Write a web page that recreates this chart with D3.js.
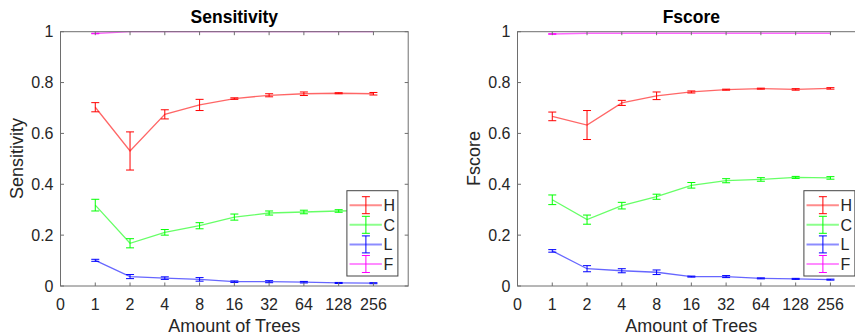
<!DOCTYPE html>
<html>
<head>
<meta charset="utf-8">
<script src="https://cdn.jsdelivr.net/npm/d3@7"></script>
<style>
  html, body { margin: 0; padding: 0; background: #fff; }
  svg { display: block; font-family: "Liberation Sans", Arial, Helvetica, sans-serif; }
</style>
</head>
<body>
<svg id="chart" width="855" height="336"></svg>
<script>
// ---------- data ----------
const xTickLabels = ["0", "1", "2", "4", "8", "16", "32", "64", "128", "256"];
const treeCounts = ["1", "2", "4", "8", "16", "32", "64", "128", "256"];
const seriesNames = ["H", "C", "L", "F"];
const seriesColors = ["#ff0000", "#00ff00", "#0000ff", "#ff00ff"];
const yTicks = [0, 0.2, 0.4, 0.6, 0.8, 1];

// Sensitivity panel
const sensH = [0.703, 0.531, 0.675, 0.712, 0.737, 0.750, 0.756, 0.758, 0.756];
const sensHErr = [0.018, 0.075, 0.018, 0.022, 0.003, 0.006, 0.007, 0.002, 0.005];
const sensC = [0.318, 0.168, 0.211, 0.237, 0.271, 0.287, 0.291, 0.295, 0.297];
const sensCErr = [0.023, 0.018, 0.011, 0.012, 0.012, 0.008, 0.007, 0.005, 0.005];
const sensL = [0.101, 0.037, 0.031, 0.026, 0.017, 0.017, 0.015, 0.012, 0.011];
const sensLErr = [0.004, 0.008, 0.005, 0.007, 0.003, 0.004, 0.003, 0.002, 0.002];
const sensF = [0.993, 1.0, 1.0, 1.0, 1.0, 1.0, 1.0, 1.0, 1.0];
const sensFErr = [0.001, 0, 0, 0, 0, 0, 0, 0, 0];

// Fscore panel
const fsH = [0.667, 0.633, 0.720, 0.748, 0.763, 0.772, 0.776, 0.773, 0.777];
const fsHErr = [0.017, 0.057, 0.010, 0.015, 0.004, 0.002, 0.002, 0.003, 0.003];
const fsC = [0.339, 0.261, 0.316, 0.351, 0.396, 0.414, 0.419, 0.427, 0.425];
const fsCErr = [0.019, 0.018, 0.013, 0.010, 0.011, 0.008, 0.007, 0.004, 0.005];
const fsL = [0.138, 0.068, 0.060, 0.054, 0.037, 0.037, 0.030, 0.028, 0.025];
const fsLErr = [0.005, 0.012, 0.008, 0.009, 0.002, 0.004, 0.002, 0.002, 0.002];
const fsF = [0.991, 0.994, 0.994, 0.994, 0.994, 0.994, 0.994, 0.994, 0.994];
const fsFErr = [0.001, 0, 0, 0, 0, 0, 0, 0, 0];

const panels = [
  { title: "Sensitivity", ylabel: "Sensitivity", left: 60.5, values: [sensH, sensC, sensL, sensF], errors: [sensHErr, sensCErr, sensLErr, sensFErr] },
  { title: "Fscore", ylabel: "Fscore", left: 517.5, values: [fsH, fsC, fsL, fsF], errors: [fsHErr, fsCErr, fsLErr, fsFErr] }
];

// ---------- drawing ----------
const svg = d3.select("#chart");
const plotW = 347.7, plotTop = 31.7, plotBottom = 286;
const axisColor = "#6e6e6e";
const textColor = "#262626";
const tickLen = 3.5;

panels.forEach(p => {
  const g = svg.append("g");
  const x = d3.scaleLinear().domain([0, xTickLabels.length]).range([p.left, p.left + plotW]);
  const y = d3.scaleLinear().domain([0, 1]).range([plotBottom, plotTop]);
  const xPos = i => x(i);

  p.values.forEach((vals, si) => {
    const col = seriesColors[si];
    const line = d3.line().x((d, i) => xPos(i + 1)).y(d => y(d));
    g.append("path").datum(vals)
      .attr("d", line).attr("fill", "none")
      .attr("stroke", col).attr("stroke-width", 1.3).attr("stroke-opacity", 0.6);
    const errs = p.errors[si];
    vals.forEach((v, i) => {
      const e = errs[i];
      if (e <= 0) return;
      const cx = xPos(i + 1);
      const y1 = y(v - e), y2 = y(v + e);
      g.append("line").attr("x1", cx).attr("x2", cx).attr("y1", y1).attr("y2", y2)
        .attr("stroke", col).attr("stroke-width", 1);
      [y1, y2].forEach(yy => {
        g.append("line").attr("x1", cx - 4).attr("x2", cx + 4).attr("y1", yy).attr("y2", yy)
          .attr("stroke", col).attr("stroke-width", 1);
      });
    });
  });

  const xr = x.range();
  g.append("rect").attr("x", xr[0]).attr("y", plotTop).attr("width", plotW).attr("height", plotBottom - plotTop)
    .attr("fill", "none").attr("stroke", axisColor).attr("stroke-width", 1);

  const xIdx = d3.range(xTickLabels.length);
  xIdx.forEach(i => {
    const px = xPos(i);
    g.append("line").attr("x1", px).attr("x2", px).attr("y1", plotBottom).attr("y2", plotBottom - tickLen).attr("stroke", axisColor);
    g.append("line").attr("x1", px).attr("x2", px).attr("y1", plotTop).attr("y2", plotTop + tickLen).attr("stroke", axisColor);
    g.append("text").attr("x", px).attr("y", 310).attr("text-anchor", "middle")
      .attr("font-size", 16).attr("fill", textColor).text(xTickLabels[i]);
  });
  yTicks.forEach(t => {
    const py = y(t);
    g.append("line").attr("x1", xr[0]).attr("x2", xr[0] + tickLen).attr("y1", py).attr("y2", py).attr("stroke", axisColor);
    g.append("line").attr("x1", xr[1]).attr("x2", xr[1] - tickLen).attr("y1", py).attr("y2", py).attr("stroke", axisColor);
    g.append("text").attr("x", xr[0] - 7).attr("y", py).attr("dy", "0.36em").attr("text-anchor", "end")
      .attr("font-size", 16).attr("fill", textColor).text(d3.format("")(t));
  });

  const cx = (xr[0] + xr[1]) / 2;
  g.append("text").attr("x", cx).attr("y", 23).attr("text-anchor", "middle")
    .attr("font-size", 17.5).attr("font-weight", "bold").attr("fill", "#000").text(p.title);
  g.append("text").attr("x", cx).attr("y", 332).attr("text-anchor", "middle")
    .attr("font-size", 18).attr("fill", textColor).text("Amount of Trees");
  g.append("text").attr("transform", `translate(${xr[0] - 38},${158.5}) rotate(-90)`)
    .attr("text-anchor", "middle").attr("font-size", 18).attr("fill", textColor).text(p.ylabel);

  const lw = 51, lh = 85.3;
  const lx = xr[1] - 10.3 - lw, ly = 190.7;
  const lg = g.append("g");
  lg.append("rect").attr("x", lx).attr("y", ly).attr("width", lw).attr("height", lh)
    .attr("fill", "#fff").attr("stroke", "#444").attr("stroke-width", 1);
  seriesNames.forEach((name, si) => {
    const ey = ly + 14.5 + si * 19.6;
    const col = seriesColors[si];
    lg.append("line").attr("x1", lx + 2.6).attr("x2", lx + 35).attr("y1", ey).attr("y2", ey)
      .attr("stroke", col).attr("stroke-width", 2).attr("stroke-opacity", 0.45);
    const mx = lx + 19;
    lg.append("line").attr("x1", mx).attr("x2", mx).attr("y1", ey - 8.5).attr("y2", ey + 8.5).attr("stroke", col);
    [ey - 8.5, ey + 8.5].forEach(yy => {
      lg.append("line").attr("x1", mx - 4).attr("x2", mx + 4).attr("y1", yy).attr("y2", yy).attr("stroke", col);
    });
    lg.append("text").attr("x", lx + 36.5).attr("y", ey).attr("dy", "0.36em")
      .attr("font-size", 16).attr("fill", textColor).text(name);
  });
});
</script>
</body>
</html>
